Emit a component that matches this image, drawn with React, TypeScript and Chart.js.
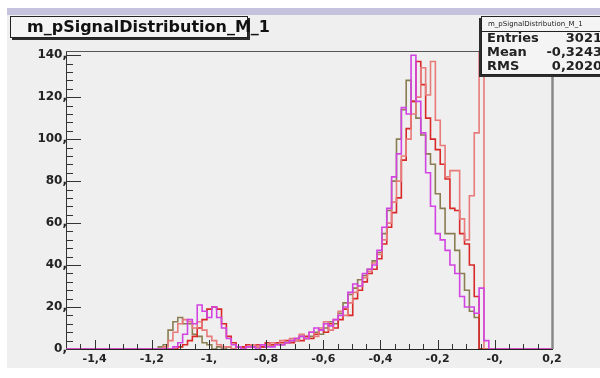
import React, { useEffect, useRef } from "react";
import { Chart, registerables } from "chart.js";

Chart.register(...registerables);

// Histogram binning: 100 bins from -1.5 to 0.2
const BIN_LOW = -1.5;
const BIN_WIDTH = 0.017;

const OLIVE = [
  0, 0, 0, 0, 0, 0, 0, 0, 0, 0,
  0, 0, 0, 0, 0, 0, 0, 0, 0, 1,
  2, 9, 13, 15, 12, 12, 7, 6, 3, 2,
  0, 1, 0, 1, 0, 1, 1, 1, 2, 1,
  1, 2, 2, 3, 2, 3, 4, 4, 6, 5,
  6, 8, 7, 10, 13, 12, 17, 22, 26, 29,
  33, 35, 38, 42, 46, 55, 66, 80, 100, 114,
  128, 118, 110, 102, 93, 88, 74, 67, 55, 55,
  47, 36, 28, 18, 15, 0, 0, 0, 0, 0,
  0, 0, 0, 0, 0, 0, 0, 0, 0, 0,
];

const MAGENTA = [
  0, 0, 0, 0, 0, 0, 0, 0, 0, 0,
  0, 0, 0, 0, 0, 0, 0, 0, 0, 0,
  0, 0, 1, 3, 7, 14, 12, 21, 18, 15,
  20, 15, 10, 5, 2, 1, 0, 1, 1, 0,
  2, 1, 1, 2, 2, 3, 4, 5, 6, 5,
  8, 10, 9, 12, 11, 14, 16, 20, 27, 31,
  30, 36, 38, 40, 47, 58, 67, 82, 93, 115,
  112, 140, 118, 103, 84, 68, 55, 52, 47, 40,
  36, 25, 20, 20, 17, 29, 4, 0, 0, 0,
  0, 0, 0, 0, 0, 0, 0, 0, 0, 0,
];

const RED = [
  0, 0, 0, 0, 0, 0, 0, 0, 0, 0,
  0, 0, 0, 0, 0, 0, 0, 0, 0, 0,
  0, 0, 0, 1, 2, 4, 6, 10, 14, 19,
  20, 19, 12, 6, 3, 1, 1, 2, 1, 2,
  1, 3, 2, 3, 3, 4, 3, 5, 4, 6,
  5, 7, 9, 8, 12, 10, 14, 19, 16, 24,
  28, 32, 36, 38, 43, 50, 58, 65, 72, 90,
  105, 118, 137, 126, 110, 100, 95, 88, 81, 67,
  66, 55, 50, 40, 25, 0, 0, 0, 0, 0,
  0, 0, 0, 0, 0, 0, 0, 0, 0, 0,
];

const SALMON = [
  0, 0, 0, 0, 0, 0, 0, 0, 0, 0,
  0, 0, 0, 0, 0, 0, 0, 0, 0, 0,
  1, 4, 8, 12, 14, 13, 10, 13, 9, 6,
  4, 2, 1, 1, 0, 1, 0, 1, 2, 1,
  2, 2, 3, 2, 4, 3, 5, 4, 7, 5,
  8, 6, 10, 13, 9, 14, 18, 16, 22, 27,
  30, 34, 37, 41, 45, 52, 60, 70, 80, 92,
  100, 112, 120, 134, 121, 137, 109, 97, 82, 85,
  85, 62, 52, 73, 103, 175, 0, 0, 0, 0,
  0, 0, 0, 0, 0, 0, 0, 0, 0, 0,
];

const SERIES_NAMES = ["magenta", "salmon", "red", "olive"];
const SERIES_COLORS = ["#d244e2", "#e87a7a", "#d82828", "#8a7d52"];

const X_MIN = -1.5;
const X_MAX = 0.2;
const Y_MIN = 0;
const Y_MAX = 142;
const X_TICKS = [-1.4, -1.2, -1.0, -0.8, -0.6, -0.4, -0.2, 0.0, 0.2];
const X_TICK_LABELS = ["-1,4", "-1,2", "-1,", "-0,8", "-0,6", "-0,4", "-0,2", "-0,", "0,2"];
const Y_TICKS = [0, 20, 40, 60, 80, 100, 120, 140];
const Y_TICK_LABELS = ["0,", "20,", "40,", "60,", "80,", "100,", "120,", "140,"];

const TITLE = "m_pSignalDistribution_M_1";
const STATS_TITLE = "m_pSignalDistribution_M_1";
const STATS_LABELS = ["Entries", "Mean", "RMS"];
const STATS_VALUES = ["3021", "-0,3243", "0,2020"];

function toPoints(values: number[]) {
  const pts = values.map((v, i) => ({ x: BIN_LOW + i * BIN_WIDTH, y: v }));
  pts.push({ x: BIN_LOW + values.length * BIN_WIDTH, y: 0 });
  return pts;
}

const rootPlugin = {
  id: "rootStyle",
  beforeDraw(chart: any) {
    const ctx = chart.ctx;
    ctx.save();
    ctx.fillStyle = "#ffffff";
    ctx.fillRect(0, 0, chart.width, chart.height);
    ctx.fillStyle = "#efefef";
    ctx.fillRect(7, 8, chart.width - 7, 360);
    ctx.fillStyle = "#c3c3de";
    ctx.fillRect(7, 8, chart.width - 7, 7);
    ctx.restore();
  },
  afterDatasetsDraw(chart: any) {
    const ctx = chart.ctx;
    const xs = chart.scales.x;
    const ys = chart.scales.y;
    const { left, right, top, bottom } = chart.chartArea;
    ctx.save();
    ctx.strokeStyle = "#333";
    ctx.lineWidth = 1;
    ctx.beginPath();
    for (const v of Y_TICKS) {
      const y = Math.round(ys.getPixelForValue(v)) + 0.5;
      ctx.moveTo(left, y);
      ctx.lineTo(left + 15, y);
    }
    for (let v = 4; v < Y_MAX; v += 4) {
      if (v % 20 === 0) continue;
      const y = Math.round(ys.getPixelForValue(v)) + 0.5;
      ctx.moveTo(left, y);
      ctx.lineTo(left + 7, y);
    }
    for (const v of X_TICKS) {
      const x = Math.round(xs.getPixelForValue(v)) + 0.5;
      ctx.moveTo(x, bottom);
      ctx.lineTo(x, bottom - 9);
    }
    for (let k = -29; k <= 4; k++) {
      if (k % 4 === 0) continue;
      const x = Math.round(xs.getPixelForValue(k * 0.05)) + 0.5;
      ctx.moveTo(x, bottom);
      ctx.lineTo(x, bottom - 5);
    }
    ctx.stroke();
    // frame top
    ctx.strokeStyle = "#555";
    ctx.beginPath();
    ctx.moveTo(left, top + 0.5);
    ctx.lineTo(right, top + 0.5);
    ctx.stroke();
    // frame right
    ctx.strokeStyle = "#888";
    ctx.lineWidth = 2.5;
    ctx.beginPath();
    ctx.moveTo(right + 0.5, top);
    ctx.lineTo(right + 0.5, bottom);
    ctx.stroke();
    ctx.restore();
  },
  afterDraw(chart: any) {
    const ctx = chart.ctx;
    ctx.save();
    // title box
    ctx.fillStyle = "#2c2c2c";
    ctx.fillRect(12, 18, 238, 22);
    ctx.fillStyle = "#f4f4f4";
    ctx.fillRect(10, 16, 238, 22);
    ctx.strokeStyle = "#222";
    ctx.lineWidth = 1;
    ctx.strokeRect(10.5, 16.5, 237, 21);
    ctx.fillStyle = "#111";
    ctx.font = "bold 16px 'DejaVu Sans'";
    ctx.textBaseline = "middle";
    ctx.textAlign = "left";
    ctx.fillText(TITLE, 27, 27.5);

    // stats box
    ctx.fillStyle = "#2c2c2c";
    ctx.fillRect(479, 18, 130, 59);
    ctx.fillStyle = "#f4f4f4";
    ctx.fillRect(481, 16, 130, 59);
    ctx.strokeStyle = "#222";
    ctx.strokeRect(481.5, 16.5, 130, 58);
    ctx.beginPath();
    ctx.moveTo(481, 31.5);
    ctx.lineTo(chart.width, 31.5);
    ctx.stroke();
    ctx.fillStyle = "#222";
    ctx.font = "7px 'DejaVu Sans'";
    ctx.fillText(STATS_TITLE, 488, 24);
    ctx.font = "bold 13px 'DejaVu Sans'";
    const rowsY = [39, 53, 67];
    STATS_LABELS.forEach((lab, i) => {
      ctx.textAlign = "left";
      ctx.fillText(lab, 487, rowsY[i]);
      ctx.textAlign = "right";
      ctx.fillText(STATS_VALUES[i], 602, rowsY[i]);
    });
    ctx.restore();
  },
};

export default function App() {
  const ref = useRef<HTMLCanvasElement>(null);
  useEffect(() => {
    const canvas = ref.current;
    if (!canvas) return;
    const datasets = [MAGENTA, SALMON, RED, OLIVE].map((vals, i) => ({
      label: SERIES_NAMES[i],
      data: toPoints(vals),
      borderColor: SERIES_COLORS[i],
      backgroundColor: SERIES_COLORS[i],
      borderWidth: 1.6,
      pointRadius: 0,
      stepped: "before" as const,
      fill: false,
      tension: 0,
    }));
    const tickFont = { family: "'DejaVu Sans'", weight: "bold" as const };
    const chart = new Chart(canvas, {
      type: "line",
      data: { datasets },
      options: {
        animation: false,
        responsive: false,
        devicePixelRatio: 1,
        events: [],
        layout: { padding: { top: 51, right: 48, left: 0, bottom: 0 } },
        plugins: {
          legend: { display: false },
          tooltip: { enabled: false },
          title: { display: false },
        },
        scales: {
          x: {
            type: "linear",
            min: X_MIN,
            max: X_MAX,
            afterBuildTicks: (s: any) => {
              s.ticks = X_TICKS.map((v) => ({ value: v }));
            },
            afterFit: (s: any) => {
              s.height = 29;
            },
            grid: { display: false, drawTicks: false },
            border: { display: true, color: "#222", width: 1 },
            ticks: {
              autoSkip: false,
              maxRotation: 0,
              minRotation: 0,
              padding: 4,
              color: "#222",
              font: { ...tickFont, size: 11 },
              callback: (_v: any, i: number) => X_TICK_LABELS[i],
            },
          },
          y: {
            type: "linear",
            min: Y_MIN,
            max: Y_MAX,
            afterBuildTicks: (s: any) => {
              s.ticks = Y_TICKS.map((v) => ({ value: v }));
            },
            afterFit: (s: any) => {
              s.width = 66;
            },
            grid: { display: false, drawTicks: false },
            border: { display: true, color: "#333", width: 1 },
            ticks: {
              padding: -1,
              color: "#222",
              font: { ...tickFont, size: 12 },
              callback: (_v: any, i: number) => Y_TICK_LABELS[i],
            },
          },
        },
      },
      plugins: [rootPlugin],
    } as any);
    return () => chart.destroy();
  }, []);
  return (
    <div style={{ position: "fixed", left: 0, top: 0, width: 600, height: 378 }}>
      <canvas ref={ref} width={600} height={378} style={{ display: "block", width: 600, height: 378 }} />
    </div>
  );
}
